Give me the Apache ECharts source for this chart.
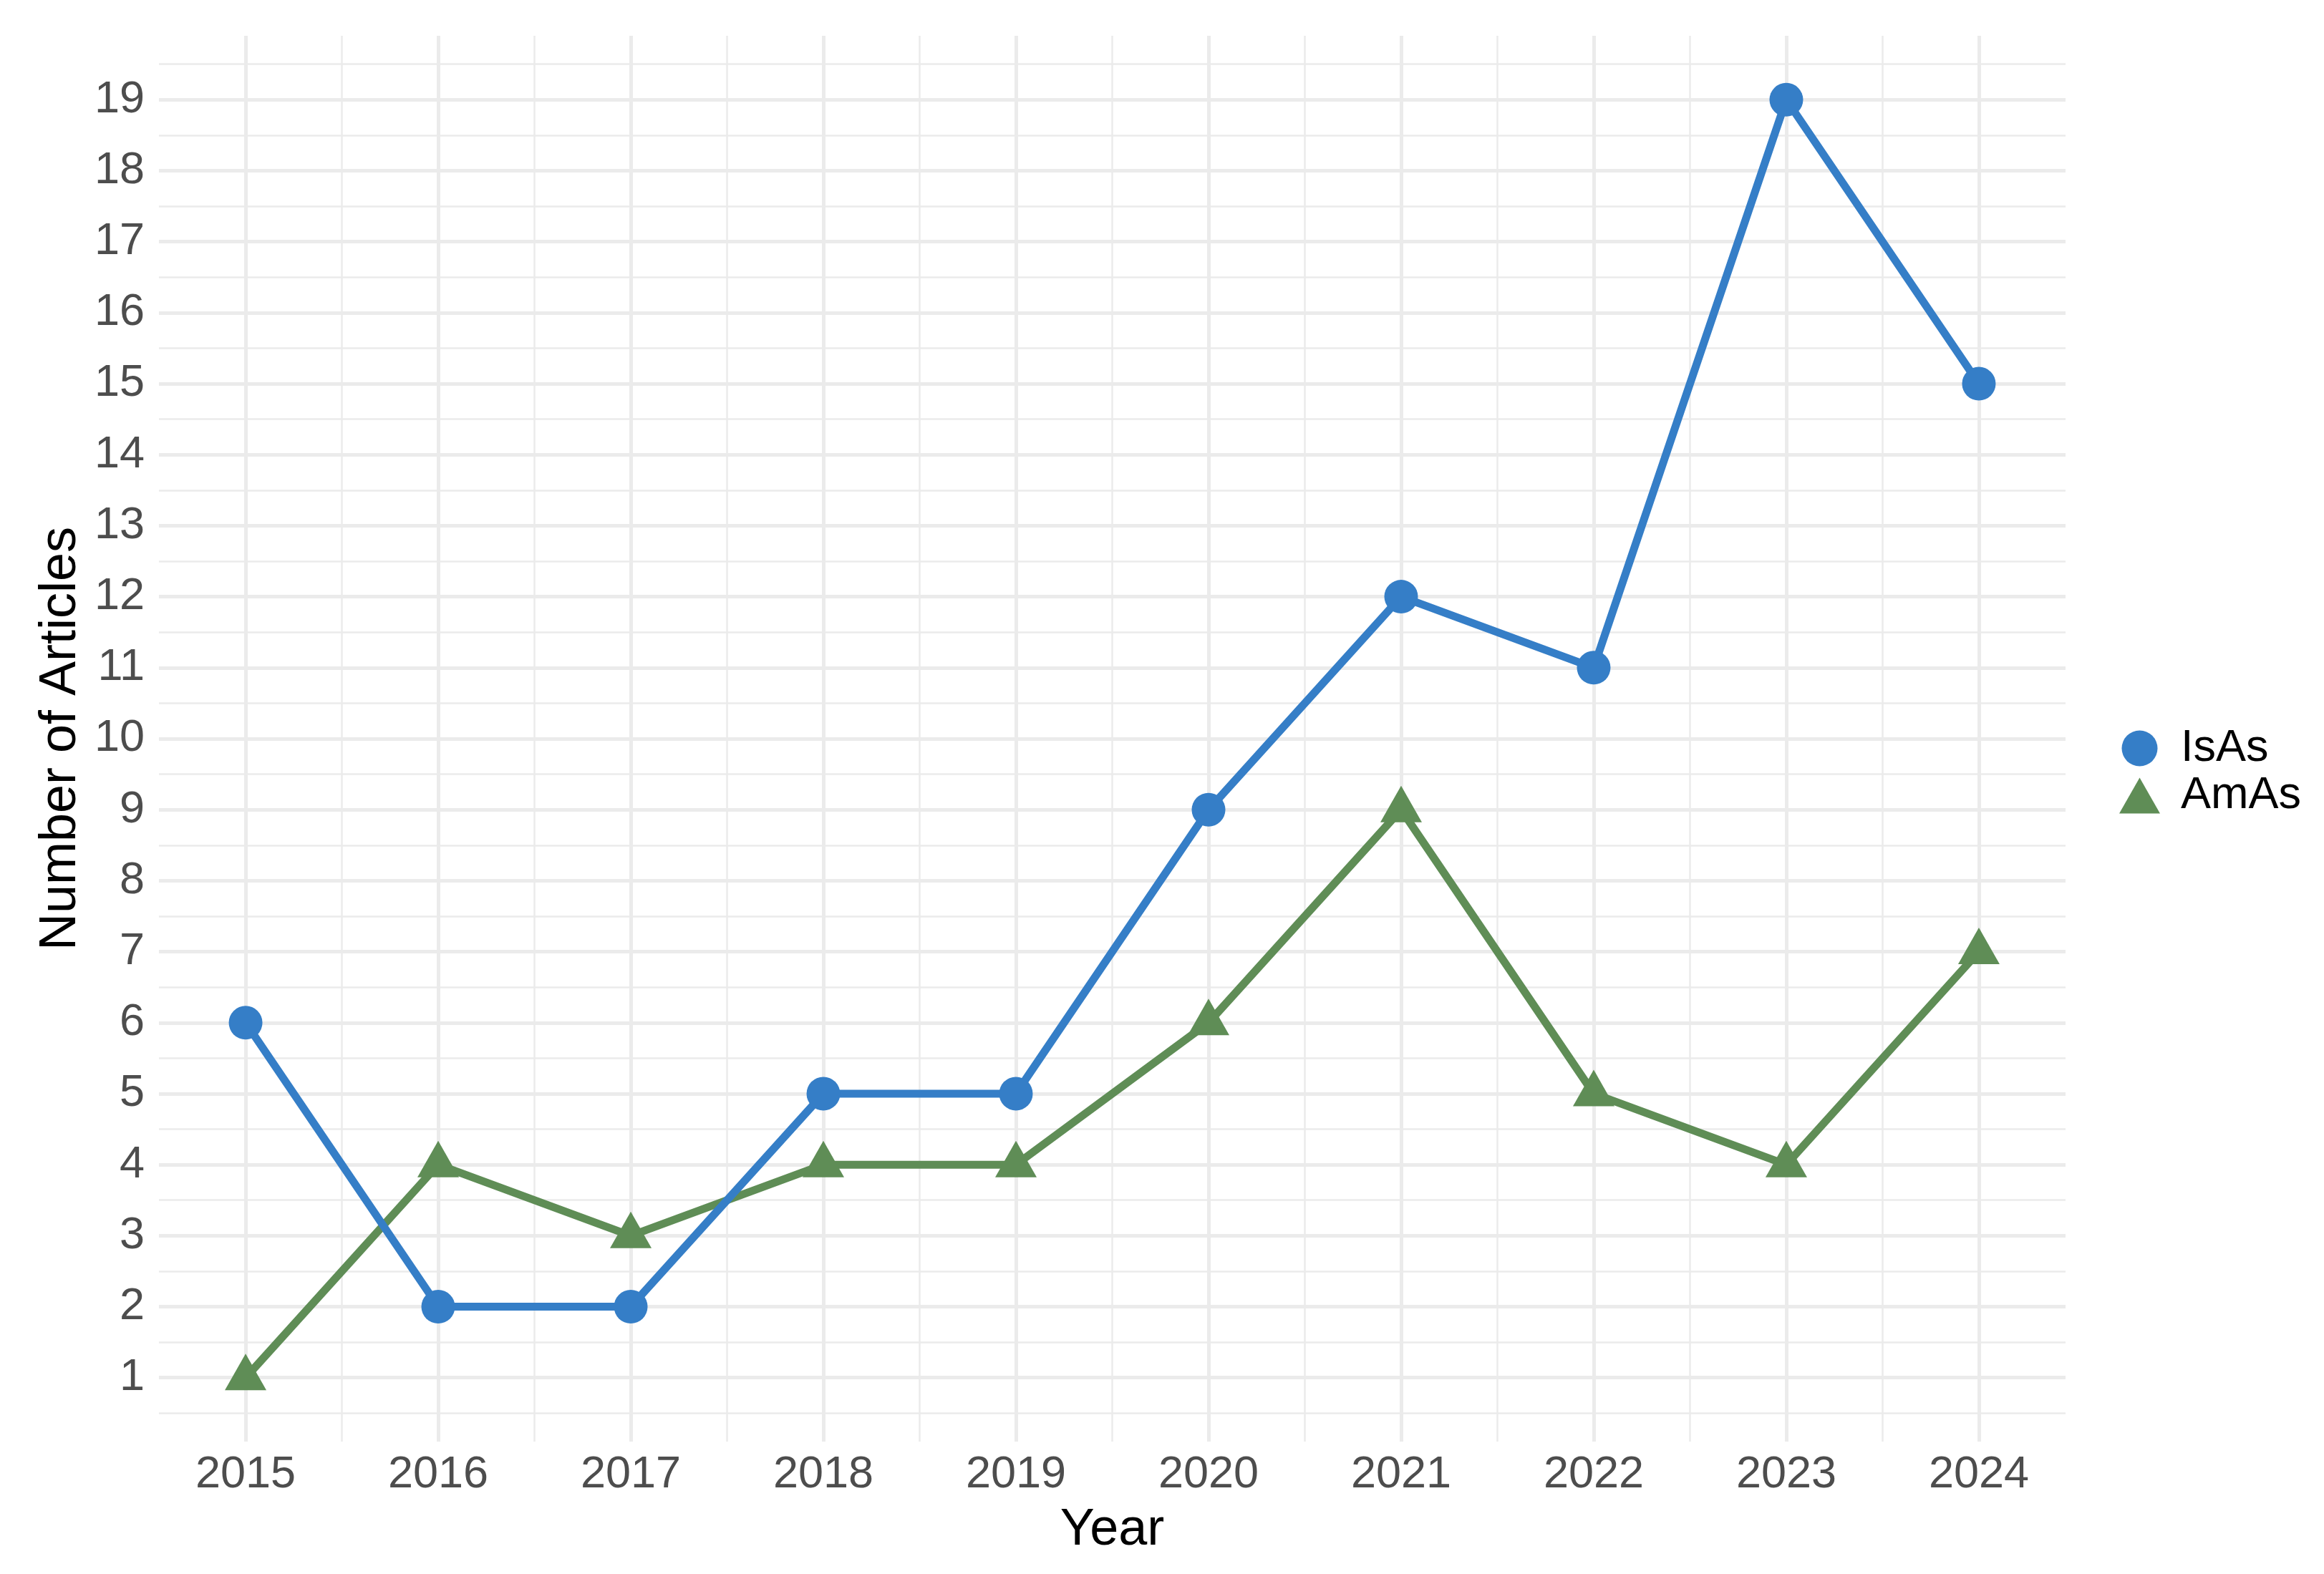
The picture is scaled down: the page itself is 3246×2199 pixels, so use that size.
<!DOCTYPE html>
<html>
<head>
<meta charset="utf-8">
<script src="https://cdn.jsdelivr.net/npm/echarts@6/dist/echarts.min.js"></script>
<style>
  html, body { margin: 0; padding: 0; background: #fff; }
  #chart { width: 3246px; height: 2199px; }
</style>
</head>
<body>
<div id="chart"></div>
<script>
// data
const years = [2015, 2016, 2017, 2018, 2019, 2020, 2021, 2022, 2023, 2024]
const isAs = [6, 2, 2, 5, 5, 9, 12, 11, 19, 15]
const amAs = [1, 4, 3, 4, 4, 6, 9, 5, 4, 7]
const seriesNames = ['IsAs', 'AmAs']

const FONT = 'Liberation Sans, Arial, sans-serif'
const BLUE = '#357EC7'
const GREEN = '#5F8D56'
const GRID = '#EBEBEB'

// only whole numbers get a label
const intLabel = function (v) {
  return Math.abs(v - Math.round(v)) < 1e-6 ? String(Math.round(v)) : ''
}

const majorAxis = function (min, max, extra) {
  return Object.assign({
    type: 'value',
    min: min,
    max: max,
    minInterval: 1,
    maxInterval: 1,
    axisLine: { show: false },
    axisTick: { show: false },
    splitLine: {
      show: true,
      showMinLine: false,
      showMaxLine: false,
      lineStyle: { color: GRID, width: 5 },
    },
  }, extra)
}

const minorAxis = function (min, max, extra) {
  return Object.assign({
    type: 'value',
    min: min,
    max: max,
    minInterval: 0.5,
    maxInterval: 0.5,
    axisLine: { show: false },
    axisTick: { show: false },
    axisLabel: { show: false },
    splitLine: {
      show: true,
      showMinLine: false,
      showMaxLine: false,
      lineStyle: { color: GRID, width: 2.5 },
    },
  }, extra)
}

const chart = echarts.init(document.getElementById('chart'))
chart.setOption({
  animation: false,
  backgroundColor: '#ffffff',
  grid: { left: 222, right: 361, top: 50, bottom: 185 },
  legend: {
    orient: 'vertical',
    left: 2955,
    top: 1009,
    itemWidth: 57,
    itemHeight: 50,
    itemGap: 3,
    data: [
      { name: 'IsAs', icon: 'circle' },
      { name: 'AmAs', icon: 'triangle' },
    ],
    textStyle: {
      fontFamily: FONT,
      fontSize: 63,
      color: '#000',
      lineHeight: 50,
      padding: [0, 0, 0, 24],
    },
  },
  xAxis: [
    majorAxis(2014.55, 2024.45, {
      splitNumber: 10,
      name: 'Year',
      nameLocation: 'middle',
      nameGap: 88,
      nameTextStyle: { fontFamily: FONT, fontSize: 72, color: '#000' },
      axisLabel: {
        formatter: intLabel,
        showMinLabel: false,
        showMaxLabel: false,
        fontFamily: FONT,
        fontSize: 63,
        color: '#4D4D4D',
        margin: 15,
      },
    }),
    minorAxis(2014.55, 2024.45, { splitNumber: 20, position: 'bottom' }),
  ],
  yAxis: [
    majorAxis(0.1, 19.9, {
      splitNumber: 19,
      name: 'Number of Articles',
      nameLocation: 'middle',
      nameGap: 98,
      nameTextStyle: { fontFamily: FONT, fontSize: 72, color: '#000' },
      axisLabel: {
        formatter: intLabel,
        showMinLabel: false,
        showMaxLabel: false,
        fontFamily: FONT,
        fontSize: 63,
        color: '#4D4D4D',
        margin: 20,
      },
    }),
    minorAxis(0.1, 19.9, { splitNumber: 38, position: 'left' }),
  ],
  series: [
    {
      name: seriesNames[1],
      type: 'line',
      data: years.map((y, i) => [y, amAs[i]]),
      symbol: 'triangle',
      symbolSize: [58, 51],
      symbolOffset: [0, -8],
      lineStyle: { color: GREEN, width: 11 },
      itemStyle: { color: GREEN },
    },
    {
      name: seriesNames[0],
      type: 'line',
      data: years.map((y, i) => [y, isAs[i]]),
      symbol: 'circle',
      symbolSize: 47,
      lineStyle: { color: BLUE, width: 11 },
      itemStyle: { color: BLUE },
    },
  ],
})
</script>
</body>
</html>
